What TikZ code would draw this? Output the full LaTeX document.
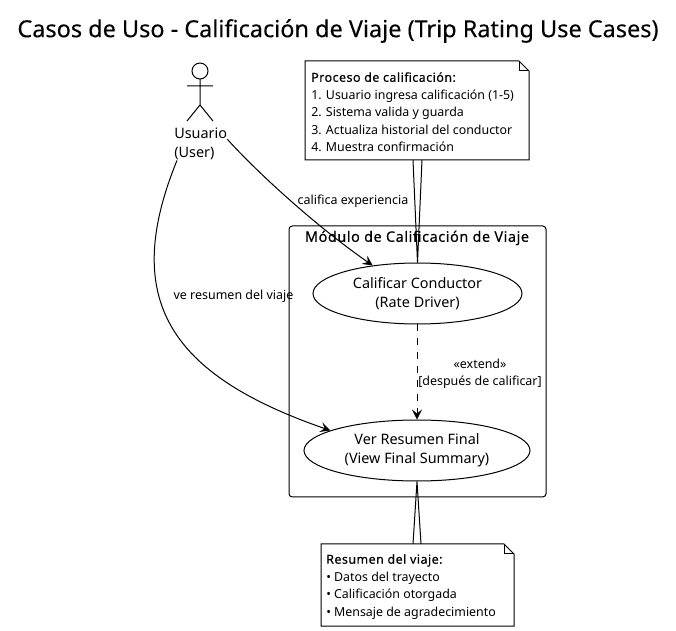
\documentclass[tikz,border=0pt]{standalone}
\usepackage{fontspec}
\setmainfont{Noto Sans}
\newfontfamily\notabold[FakeBold=0.25,LetterSpace=4]{Noto Sans}
\newfontfamily\titulofont[FakeBold=0.1]{Noto Sans}
\usetikzlibrary{positioning,calc,shapes.geometric,arrows.meta}
\tikzset{
  casouso/.style={draw,ellipse,inner sep=0pt,align=center,line width=0.75pt,fill=white,font=\fontsize{10.8}{14.25}\selectfont},
  nota/.style={anchor=north west,inner sep=0pt,align=left,font=\fontsize{9.3}{13.1}\selectfont},
  etiqueta/.style={inner sep=0pt,align=center,font=\fontsize{9.35}{13.1}\selectfont},
  flecha/.style={-{Stealth[length=7.5pt,width=7.5pt,inset=3pt]},line width=0.75pt}
}
\begin{document}
\begin{tikzpicture}[x=0.75pt,y=-0.75pt]
\path[use as bounding box,fill=white] (0,0) rectangle (676,631);
\node[inner sep=0pt,font=\titulofont\fontsize{17.6}{20}\selectfont] (titulo) at (338,31) {Casos de Uso - Calificación de Viaje (Trip Rating Use Cases)};

% modulo
\draw[rounded corners=2.5pt,line width=0.75pt] (289,226) rectangle (546,497);

% actor
\draw[line width=0.75pt] (200,71) circle (8);
\draw[line width=0.75pt] (200,79) -- (200,105) (187,86) -- (213,86) (187,121) -- (200,105) -- (213,121);
\node[inner sep=0pt,align=left,anchor=north west,font=\fontsize{10.8}{14.25}\selectfont] (usuario) at (174,128) {Usuario\\(User)};

\node[casouso,minimum height=61*0.75pt,minimum width=209*0.75pt] (calificar) at (417.5,293.5) {Calificar Conductor\\(Rate Driver)};
\node[casouso,minimum height=61*0.75pt,minimum width=226*0.75pt] (resumen) at (417,450.5) {Ver Resumen Final\\(View Final Summary)};

\node[nota] (notaproceso) at (311,72) {{\notabold Proceso de calificación:}\\1. Usuario ingresa calificación (1-5)\\2. Sistema valida y guarda\\3. Actualiza historial del conductor\\4. Muestra confirmación};
\node[nota] (notaviaje) at (326,554) {{\notabold Resumen del viaje:}\\• Datos del trayecto\\• Calificación otorgada\\• Mensaje de agradecimiento};

% cuerpo de las notas
\foreach \nt/\x/\y/\w/\h in {notaproceso/305/61/224/99,notaviaje/321/544/193/82}{
  \draw[line width=0.75pt] (\x,\y) -- (\x+\w-10,\y) -- (\x+\w,\y+10) -- (\x+\w,\y+\h) -- (\x,\y+\h) -- cycle;
  \draw[line width=0.75pt] (\x+\w-10,\y) -- (\x+\w-10,\y+10) -- (\x+\w,\y+10);
}

% enlaces de notas
\draw[line width=0.75pt] (413,160) -- (calificar.north) -- (422,160);
\draw[line width=0.75pt] (413,544) -- (resumen.south) -- (421,544);

\draw[flecha] ($(usuario.east)+(0,-5)$) .. controls (255,170) and (313,224) .. (calificar.148);
\draw[flecha] ($(usuario.south west)+(3,0)$) .. controls (120,300) and (170,375) .. (resumen.167);
\draw[flecha,dash pattern=on 5.25pt off 5.25pt] (calificar.south -| resumen.north) -- (resumen.north);

\node[inner sep=0pt,font=\notabold\fontsize{10.8}{12}\selectfont] (modulo) at (417,238) {Módulo de Calificación de Viaje};
\node[etiqueta] (lblcalifica) at (353,201) {califica experiencia};
\node[etiqueta] (lblresumen) at (233.5,296) {ve resumen del viaje};
\node[etiqueta] (lblextiende) at (480,374) {«extend»\\{[}después de calificar{]}};
\end{tikzpicture}
\end{document}
